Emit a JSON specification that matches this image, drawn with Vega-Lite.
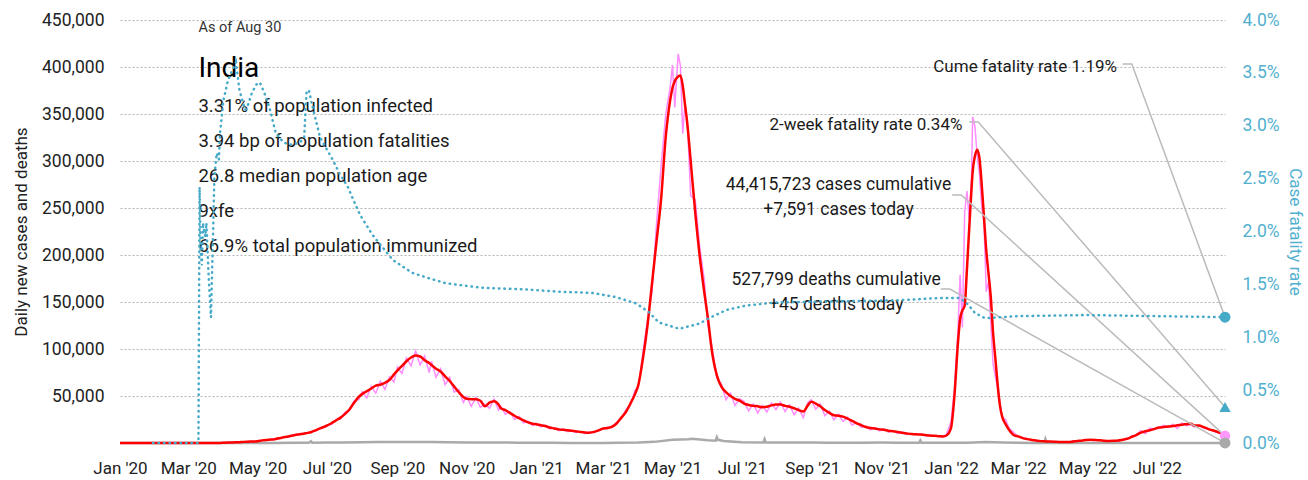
{
  "$schema": "https://vega.github.io/schema/vega-lite/v6.json",
  "width": 1105,
  "height": 423,
  "autosize": {"type": "none"},
  "padding": {"left": 120, "top": 20, "right": 83, "bottom": 37},
  "background": "white",
  "config": {
    "font": "Roboto",
    "view": {"stroke": null},
    "axis": {"labelFont": "Roboto", "titleFont": "Roboto", "labelColor": "#222", "titleColor": "#222", "titleFontWeight": "normal"},
    "text": {"font": "Roboto", "color": "#1a1a1a"}
  },
  "datasets": {
    "cases": [
      {"date": "2020-01-01", "avg": 0, "cases": 0}, {"date": "2020-01-30", "avg": 0, "cases": 1},
      {"date": "2020-03-01", "avg": 1, "cases": 0}, {"date": "2020-03-05", "avg": 4, "cases": 6}, {"date": "2020-03-09", "avg": 8, "cases": 9}, {"date": "2020-03-13", "avg": 12, "cases": 14}, {"date": "2020-03-17", "avg": 20, "cases": 23}, {"date": "2020-03-21", "avg": 50, "cases": 60}, {"date": "2020-03-25", "avg": 80, "cases": 86}, {"date": "2020-03-29", "avg": 130, "cases": 106},
      {"date": "2020-04-01", "avg": 300, "cases": 437}, {"date": "2020-04-05", "avg": 500, "cases": 480}, {"date": "2020-04-09", "avg": 600, "cases": 620}, {"date": "2020-04-13", "avg": 850, "cases": 800}, {"date": "2020-04-17", "avg": 1000, "cases": 1060}, {"date": "2020-04-21", "avg": 1300, "cases": 1250}, {"date": "2020-04-25", "avg": 1600, "cases": 1680}, {"date": "2020-04-29", "avg": 1700, "cases": 1610},
      {"date": "2020-05-01", "avg": 1900, "cases": 2000}, {"date": "2020-05-05", "avg": 2800, "cases": 2630}, {"date": "2020-05-09", "avg": 3300, "cases": 3430}, {"date": "2020-05-13", "avg": 3600, "cases": 3420}, {"date": "2020-05-17", "avg": 4300, "cases": 4560}, {"date": "2020-05-21", "avg": 5300, "cases": 5090}, {"date": "2020-05-25", "avg": 6300, "cases": 6620}, {"date": "2020-05-29", "avg": 7200, "cases": 6770},
      {"date": "2020-06-01", "avg": 8000, "cases": 8400}, {"date": "2020-06-05", "avg": 9000, "cases": 8460}, {"date": "2020-06-09", "avg": 9600, "cases": 9980}, {"date": "2020-06-13", "avg": 10500, "cases": 9980}, {"date": "2020-06-17", "avg": 11500, "cases": 12190}, {"date": "2020-06-21", "avg": 13500, "cases": 12960}, {"date": "2020-06-25", "avg": 15500, "cases": 16280}, {"date": "2020-06-29", "avg": 17500, "cases": 16450},
      {"date": "2020-07-01", "avg": 18500, "cases": 19430}, {"date": "2020-07-05", "avg": 21000, "cases": 19740}, {"date": "2020-07-09", "avg": 24000, "cases": 24960}, {"date": "2020-07-13", "avg": 27000, "cases": 25650}, {"date": "2020-07-17", "avg": 31000, "cases": 32860}, {"date": "2020-07-21", "avg": 36000, "cases": 34560}, {"date": "2020-07-25", "avg": 43000, "cases": 45150}, {"date": "2020-07-29", "avg": 49000, "cases": 46060},
      {"date": "2020-08-01", "avg": 52000, "cases": 54600}, {"date": "2020-08-05", "avg": 55000, "cases": 48000}, {"date": "2020-08-09", "avg": 58000, "cases": 60320}, {"date": "2020-08-13", "avg": 61000, "cases": 53000}, {"date": "2020-08-17", "avg": 62000, "cases": 65720}, {"date": "2020-08-21", "avg": 64000, "cases": 57000}, {"date": "2020-08-25", "avg": 67000, "cases": 70350}, {"date": "2020-08-29", "avg": 73000, "cases": 65000},
      {"date": "2020-09-01", "avg": 77000, "cases": 80850}, {"date": "2020-09-05", "avg": 82000, "cases": 74000}, {"date": "2020-09-09", "avg": 87000, "cases": 90480}, {"date": "2020-09-13", "avg": 91000, "cases": 82000}, {"date": "2020-09-17", "avg": 93000, "cases": 97890}, {"date": "2020-09-21", "avg": 92000, "cases": 83000}, {"date": "2020-09-25", "avg": 88000, "cases": 92400}, {"date": "2020-09-29", "avg": 85000, "cases": 75000},
      {"date": "2020-10-01", "avg": 83000, "cases": 87150}, {"date": "2020-10-05", "avg": 79000, "cases": 70000}, {"date": "2020-10-09", "avg": 76000, "cases": 79040}, {"date": "2020-10-13", "avg": 71000, "cases": 62000}, {"date": "2020-10-17", "avg": 66000, "cases": 69960}, {"date": "2020-10-21", "avg": 60000, "cases": 54000}, {"date": "2020-10-25", "avg": 54000, "cases": 56700}, {"date": "2020-10-29", "avg": 49000, "cases": 43000},
      {"date": "2020-11-01", "avg": 47000, "cases": 49350}, {"date": "2020-11-05", "avg": 46500, "cases": 39000}, {"date": "2020-11-09", "avg": 46500, "cases": 48360}, {"date": "2020-11-13", "avg": 45000, "cases": 38000}, {"date": "2020-11-17", "avg": 39000, "cases": 41340}, {"date": "2020-11-21", "avg": 43000, "cases": 37000}, {"date": "2020-11-25", "avg": 44500, "cases": 46730}, {"date": "2020-11-29", "avg": 41000, "cases": 35000},
      {"date": "2020-12-01", "avg": 37000, "cases": 38850}, {"date": "2020-12-05", "avg": 35000, "cases": 30500}, {"date": "2020-12-09", "avg": 32000, "cases": 33280}, {"date": "2020-12-13", "avg": 29000, "cases": 25000}, {"date": "2020-12-17", "avg": 26500, "cases": 28090}, {"date": "2020-12-21", "avg": 24000, "cases": 21500}, {"date": "2020-12-25", "avg": 22000, "cases": 23100}, {"date": "2020-12-29", "avg": 20500, "cases": 18500},
      {"date": "2021-01-01", "avg": 20000, "cases": 21000}, {"date": "2021-01-05", "avg": 19000, "cases": 17000}, {"date": "2021-01-09", "avg": 18000, "cases": 18720}, {"date": "2021-01-13", "avg": 16500, "cases": 15000}, {"date": "2021-01-17", "avg": 15500, "cases": 16430}, {"date": "2021-01-21", "avg": 14500, "cases": 13200}, {"date": "2021-01-25", "avg": 14000, "cases": 14700}, {"date": "2021-01-29", "avg": 13500, "cases": 12000},
      {"date": "2021-02-01", "avg": 13000, "cases": 13650}, {"date": "2021-02-05", "avg": 12500, "cases": 11200}, {"date": "2021-02-09", "avg": 11800, "cases": 12270}, {"date": "2021-02-13", "avg": 11200, "cases": 10000}, {"date": "2021-02-17", "avg": 11000, "cases": 11660}, {"date": "2021-02-21", "avg": 11800, "cases": 11000}, {"date": "2021-02-25", "avg": 13500, "cases": 14180},
      {"date": "2021-03-01", "avg": 15500, "cases": 14600}, {"date": "2021-03-05", "avg": 16000, "cases": 16800}, {"date": "2021-03-09", "avg": 17500, "cases": 16500}, {"date": "2021-03-13", "avg": 21000, "cases": 22000}, {"date": "2021-03-17", "avg": 27000, "cases": 26000}, {"date": "2021-03-21", "avg": 33000, "cases": 35500}, {"date": "2021-03-25", "avg": 42000, "cases": 40000}, {"date": "2021-03-29", "avg": 52000, "cases": 56000},
      {"date": "2021-04-01", "avg": 62000, "cases": 60000}, {"date": "2021-04-05", "avg": 90000, "cases": 96000}, {"date": "2021-04-09", "avg": 125000, "cases": 131000}, {"date": "2021-04-13", "avg": 170000, "cases": 161000}, {"date": "2021-04-17", "avg": 215000, "cases": 234000}, {"date": "2021-04-21", "avg": 260000, "cases": 295000}, {"date": "2021-04-25", "avg": 325000, "cases": 349000}, {"date": "2021-04-29", "avg": 365000, "cases": 379000},
      {"date": "2021-05-01", "avg": 378000, "cases": 402000}, {"date": "2021-05-03", "avg": 385000, "cases": 357000}, {"date": "2021-05-06", "avg": 390000, "cases": 414000}, {"date": "2021-05-08", "avg": 391000, "cases": 401000}, {"date": "2021-05-10", "avg": 380000, "cases": 329000}, {"date": "2021-05-12", "avg": 360000, "cases": 362000}, {"date": "2021-05-14", "avg": 340000, "cases": 343000}, {"date": "2021-05-17", "avg": 300000, "cases": 263000}, {"date": "2021-05-21", "avg": 245000, "cases": 259000}, {"date": "2021-05-25", "avg": 198000, "cases": 208000}, {"date": "2021-05-29", "avg": 160000, "cases": 173000},
      {"date": "2021-06-01", "avg": 134000, "cases": 127000}, {"date": "2021-06-05", "avg": 95000, "cases": 100000}, {"date": "2021-06-09", "avg": 72000, "cases": 69000}, {"date": "2021-06-13", "avg": 60000, "cases": 63000}, {"date": "2021-06-17", "avg": 54000, "cases": 46000}, {"date": "2021-06-21", "avg": 50000, "cases": 53000}, {"date": "2021-06-25", "avg": 47000, "cases": 40000}, {"date": "2021-06-29", "avg": 45000, "cases": 47000},
      {"date": "2021-07-03", "avg": 42000, "cases": 44000}, {"date": "2021-07-07", "avg": 40500, "cases": 34000}, {"date": "2021-07-11", "avg": 39500, "cases": 41500}, {"date": "2021-07-15", "avg": 39000, "cases": 32000}, {"date": "2021-07-19", "avg": 38000, "cases": 40000}, {"date": "2021-07-23", "avg": 38500, "cases": 33000}, {"date": "2021-07-27", "avg": 40000, "cases": 42500}, {"date": "2021-07-31", "avg": 41000, "cases": 35500},
      {"date": "2021-08-04", "avg": 41000, "cases": 43500}, {"date": "2021-08-08", "avg": 39500, "cases": 33500}, {"date": "2021-08-12", "avg": 38500, "cases": 40500}, {"date": "2021-08-16", "avg": 37000, "cases": 30000}, {"date": "2021-08-20", "avg": 35000, "cases": 37000}, {"date": "2021-08-24", "avg": 33500, "cases": 27000}, {"date": "2021-08-28", "avg": 40000, "cases": 43000}, {"date": "2021-08-31", "avg": 44000, "cases": 46000},
      {"date": "2021-09-04", "avg": 42000, "cases": 36000}, {"date": "2021-09-08", "avg": 39000, "cases": 41500}, {"date": "2021-09-12", "avg": 35000, "cases": 29000}, {"date": "2021-09-16", "avg": 32000, "cases": 34000}, {"date": "2021-09-20", "avg": 29500, "cases": 24500}, {"date": "2021-09-24", "avg": 29000, "cases": 30500}, {"date": "2021-09-28", "avg": 28000, "cases": 23000},
      {"date": "2021-10-02", "avg": 26000, "cases": 27500}, {"date": "2021-10-06", "avg": 23500, "cases": 19000}, {"date": "2021-10-10", "avg": 21000, "cases": 22000}, {"date": "2021-10-14", "avg": 19000, "cases": 16500}, {"date": "2021-10-18", "avg": 17000, "cases": 18000}, {"date": "2021-10-22", "avg": 16000, "cases": 14000}, {"date": "2021-10-26", "avg": 15500, "cases": 16300}, {"date": "2021-10-30", "avg": 14500, "cases": 12800},
      {"date": "2021-11-03", "avg": 14000, "cases": 14700}, {"date": "2021-11-07", "avg": 13000, "cases": 11500}, {"date": "2021-11-11", "avg": 12500, "cases": 13200}, {"date": "2021-11-15", "avg": 11800, "cases": 10300}, {"date": "2021-11-19", "avg": 11000, "cases": 11600}, {"date": "2021-11-23", "avg": 10200, "cases": 9000}, {"date": "2021-11-27", "avg": 9500, "cases": 10000},
      {"date": "2021-12-01", "avg": 9300, "cases": 8800}, {"date": "2021-12-05", "avg": 9000, "cases": 9500}, {"date": "2021-12-09", "avg": 8500, "cases": 8000}, {"date": "2021-12-13", "avg": 8000, "cases": 8400}, {"date": "2021-12-17", "avg": 7600, "cases": 7200}, {"date": "2021-12-21", "avg": 7300, "cases": 7700}, {"date": "2021-12-25", "avg": 7000, "cases": 6800}, {"date": "2021-12-28", "avg": 8000, "cases": 9200},
      {"date": "2022-01-01", "avg": 16000, "cases": 22800}, {"date": "2022-01-04", "avg": 50000, "cases": 58000}, {"date": "2022-01-07", "avg": 105000, "cases": 117000}, {"date": "2022-01-09", "avg": 132000, "cases": 179000}, {"date": "2022-01-11", "avg": 141000, "cases": 123000}, {"date": "2022-01-13", "avg": 146000, "cases": 245000}, {"date": "2022-01-15", "avg": 185000, "cases": 268000}, {"date": "2022-01-17", "avg": 228000, "cases": 238000}, {"date": "2022-01-19", "avg": 270000, "cases": 282000}, {"date": "2022-01-20", "avg": 288000, "cases": 347000}, {"date": "2022-01-22", "avg": 305000, "cases": 337000}, {"date": "2022-01-24", "avg": 312000, "cases": 306000}, {"date": "2022-01-26", "avg": 303000, "cases": 286000}, {"date": "2022-01-28", "avg": 275000, "cases": 251000}, {"date": "2022-01-30", "avg": 240000, "cases": 234000},
      {"date": "2022-02-01", "avg": 205000, "cases": 161000}, {"date": "2022-02-03", "avg": 180000, "cases": 172000}, {"date": "2022-02-05", "avg": 155000, "cases": 127000}, {"date": "2022-02-07", "avg": 117000, "cases": 84000}, {"date": "2022-02-09", "avg": 90000, "cases": 71000}, {"date": "2022-02-11", "avg": 62000, "cases": 58000}, {"date": "2022-02-13", "avg": 40000, "cases": 44000}, {"date": "2022-02-15", "avg": 28000, "cases": 27000}, {"date": "2022-02-18", "avg": 20000, "cases": 25000}, {"date": "2022-02-21", "avg": 14000, "cases": 16000}, {"date": "2022-02-25", "avg": 8500, "cases": 11500},
      {"date": "2022-03-01", "avg": 7000, "cases": 6900}, {"date": "2022-03-05", "avg": 5200, "cases": 5900}, {"date": "2022-03-09", "avg": 4100, "cases": 4600}, {"date": "2022-03-13", "avg": 3300, "cases": 3600}, {"date": "2022-03-17", "avg": 2600, "cases": 2500}, {"date": "2022-03-21", "avg": 2000, "cases": 1600}, {"date": "2022-03-25", "avg": 1700, "cases": 1700}, {"date": "2022-03-29", "avg": 1500, "cases": 1300},
      {"date": "2022-04-02", "avg": 1300, "cases": 1200}, {"date": "2022-04-06", "avg": 1100, "cases": 1100}, {"date": "2022-04-10", "avg": 1100, "cases": 1150}, {"date": "2022-04-14", "avg": 1100, "cases": 950}, {"date": "2022-04-18", "avg": 1500, "cases": 2200}, {"date": "2022-04-22", "avg": 2200, "cases": 2500}, {"date": "2022-04-26", "avg": 2500, "cases": 2500}, {"date": "2022-04-30", "avg": 3200, "cases": 3700},
      {"date": "2022-05-04", "avg": 3400, "cases": 3200}, {"date": "2022-05-08", "avg": 3200, "cases": 3400}, {"date": "2022-05-12", "avg": 2900, "cases": 2800}, {"date": "2022-05-16", "avg": 2400, "cases": 2200}, {"date": "2022-05-20", "avg": 2200, "cases": 2300}, {"date": "2022-05-24", "avg": 2300, "cases": 2100}, {"date": "2022-05-28", "avg": 2600, "cases": 2700},
      {"date": "2022-06-01", "avg": 3500, "cases": 3700}, {"date": "2022-06-05", "avg": 4500, "cases": 4300}, {"date": "2022-06-09", "avg": 6500, "cases": 7600}, {"date": "2022-06-13", "avg": 8500, "cases": 8100}, {"date": "2022-06-17", "avg": 11000, "cases": 13200}, {"date": "2022-06-21", "avg": 12500, "cases": 9900}, {"date": "2022-06-25", "avg": 13500, "cases": 15900}, {"date": "2022-06-29", "avg": 15000, "cases": 14500},
      {"date": "2022-07-03", "avg": 16500, "cases": 16100}, {"date": "2022-07-07", "avg": 17000, "cases": 18900}, {"date": "2022-07-11", "avg": 17500, "cases": 16600}, {"date": "2022-07-15", "avg": 18000, "cases": 20000}, {"date": "2022-07-19", "avg": 18800, "cases": 15500}, {"date": "2022-07-23", "avg": 19500, "cases": 21400}, {"date": "2022-07-27", "avg": 20000, "cases": 18300}, {"date": "2022-07-31", "avg": 20500, "cases": 19700},
      {"date": "2022-08-03", "avg": 18500, "cases": 17100}, {"date": "2022-08-07", "avg": 18500, "cases": 18700}, {"date": "2022-08-11", "avg": 17000, "cases": 16300}, {"date": "2022-08-15", "avg": 15000, "cases": 14900}, {"date": "2022-08-19", "avg": 13500, "cases": 13300}, {"date": "2022-08-23", "avg": 12000, "cases": 11000}, {"date": "2022-08-27", "avg": 10000, "cases": 9600}, {"date": "2022-08-30", "avg": 8800, "cases": 7591}
    ],
    "deaths": [
      {"date": "2020-01-01", "deaths": 0}, {"date": "2020-03-15", "deaths": 0}, {"date": "2020-04-01", "deaths": 20}, {"date": "2020-04-15", "deaths": 40}, {"date": "2020-05-01", "deaths": 70}, {"date": "2020-05-15", "deaths": 110}, {"date": "2020-06-01", "deaths": 220}, {"date": "2020-06-15", "deaths": 350}, {"date": "2020-06-17", "deaths": 2003}, {"date": "2020-06-18", "deaths": 340}, {"date": "2020-07-01", "deaths": 450}, {"date": "2020-07-15", "deaths": 600}, {"date": "2020-08-01", "deaths": 800}, {"date": "2020-08-15", "deaths": 950}, {"date": "2020-09-01", "deaths": 1050}, {"date": "2020-09-15", "deaths": 1150}, {"date": "2020-10-01", "deaths": 1100}, {"date": "2020-10-15", "deaths": 800}, {"date": "2020-11-01", "deaths": 550}, {"date": "2020-11-15", "deaths": 480}, {"date": "2020-12-01", "deaths": 480}, {"date": "2020-12-15", "deaths": 350},
      {"date": "2021-01-01", "deaths": 250}, {"date": "2021-01-15", "deaths": 170}, {"date": "2021-02-01", "deaths": 110}, {"date": "2021-02-15", "deaths": 100}, {"date": "2021-03-01", "deaths": 110}, {"date": "2021-03-15", "deaths": 160}, {"date": "2021-04-01", "deaths": 450}, {"date": "2021-04-15", "deaths": 1200}, {"date": "2021-05-01", "deaths": 3500}, {"date": "2021-05-15", "deaths": 4000}, {"date": "2021-05-18", "deaths": 4529}, {"date": "2021-06-01", "deaths": 2800}, {"date": "2021-06-08", "deaths": 2500}, {"date": "2021-06-09", "deaths": 6148}, {"date": "2021-06-10", "deaths": 3400}, {"date": "2021-06-15", "deaths": 2200}, {"date": "2021-07-01", "deaths": 900}, {"date": "2021-07-20", "deaths": 600}, {"date": "2021-07-21", "deaths": 3998}, {"date": "2021-07-22", "deaths": 550}, {"date": "2021-08-01", "deaths": 480}, {"date": "2021-08-15", "deaths": 450}, {"date": "2021-09-01", "deaths": 400}, {"date": "2021-09-15", "deaths": 300}, {"date": "2021-10-01", "deaths": 280}, {"date": "2021-10-15", "deaths": 200}, {"date": "2021-11-01", "deaths": 450}, {"date": "2021-11-15", "deaths": 300}, {"date": "2021-12-01", "deaths": 300}, {"date": "2021-12-04", "deaths": 280}, {"date": "2021-12-05", "deaths": 2796}, {"date": "2021-12-06", "deaths": 300}, {"date": "2021-12-15", "deaths": 250},
      {"date": "2022-01-01", "deaths": 280}, {"date": "2022-01-15", "deaths": 380}, {"date": "2022-02-01", "deaths": 1100}, {"date": "2022-02-15", "deaths": 600}, {"date": "2022-03-01", "deaths": 200}, {"date": "2022-03-15", "deaths": 100}, {"date": "2022-03-24", "deaths": 60}, {"date": "2022-03-25", "deaths": 4100}, {"date": "2022-03-26", "deaths": 60}, {"date": "2022-04-15", "deaths": 40}, {"date": "2022-05-01", "deaths": 40}, {"date": "2022-06-01", "deaths": 20}, {"date": "2022-07-01", "deaths": 30}, {"date": "2022-08-01", "deaths": 40}, {"date": "2022-08-30", "deaths": 45}
    ],
    "cfr": [
      {"date": "2020-01-30", "cfr": 0}, {"date": "2020-03-10", "cfr": 0}, {"date": "2020-03-11", "cfr": 0.0242}, {"date": "2020-03-12", "cfr": 0.018}, {"date": "2020-03-13", "cfr": 0.0168}, {"date": "2020-03-14", "cfr": 0.0208}, {"date": "2020-03-16", "cfr": 0.0195}, {"date": "2020-03-17", "cfr": 0.0208}, {"date": "2020-03-19", "cfr": 0.0157}, {"date": "2020-03-21", "cfr": 0.0119}, {"date": "2020-03-23", "cfr": 0.0204}, {"date": "2020-03-24", "cfr": 0.0251}, {"date": "2020-03-26", "cfr": 0.0274}, {"date": "2020-03-28", "cfr": 0.0268}, {"date": "2020-03-29", "cfr": 0.0293},
      {"date": "2020-04-01", "cfr": 0.0324}, {"date": "2020-04-05", "cfr": 0.0343}, {"date": "2020-04-09", "cfr": 0.0353}, {"date": "2020-04-12", "cfr": 0.036}, {"date": "2020-04-15", "cfr": 0.0334}, {"date": "2020-04-20", "cfr": 0.0315}, {"date": "2020-04-22", "cfr": 0.0318}, {"date": "2020-04-26", "cfr": 0.0331}, {"date": "2020-04-30", "cfr": 0.0339}, {"date": "2020-05-03", "cfr": 0.0341}, {"date": "2020-05-07", "cfr": 0.0331}, {"date": "2020-05-12", "cfr": 0.0315}, {"date": "2020-05-17", "cfr": 0.0293}, {"date": "2020-05-24", "cfr": 0.0284}, {"date": "2020-05-31", "cfr": 0.0282}, {"date": "2020-06-07", "cfr": 0.0284}, {"date": "2020-06-11", "cfr": 0.0289}, {"date": "2020-06-13", "cfr": 0.0331}, {"date": "2020-06-15", "cfr": 0.0334}, {"date": "2020-06-19", "cfr": 0.0315}, {"date": "2020-06-25", "cfr": 0.0289},
      {"date": "2020-07-06", "cfr": 0.0268}, {"date": "2020-07-12", "cfr": 0.0255}, {"date": "2020-07-19", "cfr": 0.0243}, {"date": "2020-07-30", "cfr": 0.0216}, {"date": "2020-08-10", "cfr": 0.0197}, {"date": "2020-08-28", "cfr": 0.0173}, {"date": "2020-09-14", "cfr": 0.0161}, {"date": "2020-09-28", "cfr": 0.0156}, {"date": "2020-10-14", "cfr": 0.0151}, {"date": "2020-11-12", "cfr": 0.0147}, {"date": "2020-12-26", "cfr": 0.0145},
      {"date": "2021-01-22", "cfr": 0.0143}, {"date": "2021-02-19", "cfr": 0.0142}, {"date": "2021-03-12", "cfr": 0.0138}, {"date": "2021-03-30", "cfr": 0.0132}, {"date": "2021-04-10", "cfr": 0.0124}, {"date": "2021-04-19", "cfr": 0.0114}, {"date": "2021-05-07", "cfr": 0.0108}, {"date": "2021-05-25", "cfr": 0.0113}, {"date": "2021-06-02", "cfr": 0.0118}, {"date": "2021-06-18", "cfr": 0.0126}, {"date": "2021-07-05", "cfr": 0.013}, {"date": "2021-08-01", "cfr": 0.0133}, {"date": "2021-11-17", "cfr": 0.0135}, {"date": "2021-12-20", "cfr": 0.0137},
      {"date": "2022-01-09", "cfr": 0.0137}, {"date": "2022-01-16", "cfr": 0.0131}, {"date": "2022-01-22", "cfr": 0.0123}, {"date": "2022-01-31", "cfr": 0.0118}, {"date": "2022-03-01", "cfr": 0.012}, {"date": "2022-05-01", "cfr": 0.0121}, {"date": "2022-08-30", "cfr": 0.0119}
    ],
    "leaders": [
      {"id": "cume", "ord": 1, "date": "2022-06-01", "v": 403200}, {"id": "cume", "ord": 2, "date": "2022-06-09", "v": 403200}, {"id": "cume", "ord": 3, "date": "2022-08-30", "v": 133900},
      {"id": "twoweek", "ord": 1, "date": "2022-01-17", "v": 341500}, {"id": "twoweek", "ord": 2, "date": "2022-01-25", "v": 341500}, {"id": "twoweek", "ord": 3, "date": "2022-08-30", "v": 38250},
      {"id": "cases", "ord": 1, "date": "2022-01-02", "v": 263800}, {"id": "cases", "ord": 2, "date": "2022-01-10", "v": 263800}, {"id": "cases", "ord": 3, "date": "2022-08-30", "v": 7591},
      {"id": "deaths", "ord": 1, "date": "2021-12-23", "v": 163800}, {"id": "deaths", "ord": 2, "date": "2021-12-31", "v": 163800}, {"id": "deaths", "ord": 3, "date": "2022-08-30", "v": 45}
    ]
  },
  "encoding": {
    "x": {
      "field": "date",
      "type": "temporal",
      "scale": {"type": "utc", "domain": [{"year": 2020, "month": 1, "date": 1, "utc": true}, {"year": 2022, "month": 8, "date": 30, "utc": true}]},
      "axis": {"format": "%b '%y", "tickCount": {"interval": "month", "step": 2}, "grid": false, "ticks": false, "domain": false, "labelFontSize": 17, "labelPadding": 17, "labelFlush": false, "labelOverlap": false, "title": null}
    }
  },
  "layer": [
    {
      "layer": [
        {
          "data": {"name": "cases"},
          "mark": {"type": "line", "color": "#ff8cff", "strokeWidth": 1.5},
          "encoding": {
            "y": {
              "field": "cases", "type": "quantitative", "title": "Daily new cases and deaths",
              "scale": {"domain": [0, 450000], "nice": false},
              "axis": {"orient": "left", "values": [50000, 100000, 150000, 200000, 250000, 300000, 350000, 400000, 450000], "labelExpr": "format(datum.value, ',')", "grid": true, "gridColor": "#b5b5b5", "gridDash": [2, 2], "gridWidth": 1, "ticks": false, "domain": false, "labelFontSize": 17.5, "labelPadding": 16, "titleFontSize": 17, "titlePadding": 11}
            }
          }
        },
        {
          "data": {"name": "deaths"},
          "mark": {"type": "line", "color": "#aaaaaa", "strokeWidth": 2.5},
          "encoding": {"y": {"field": "deaths", "type": "quantitative", "title": "Daily new cases and deaths", "scale": {"domain": [0, 450000], "nice": false}}}
        },
        {
          "data": {"name": "cases"},
          "mark": {"type": "line", "color": "#ff0000", "strokeWidth": 2.5, "interpolate": "monotone"},
          "encoding": {"y": {"field": "avg", "type": "quantitative", "title": "Daily new cases and deaths", "scale": {"domain": [0, 450000], "nice": false}}}
        },
        {
          "data": {"values": [{"date": "2020-03-10", "v": 437600, "t": "As of Aug 30"}]},
          "mark": {"type": "text", "align": "left", "baseline": "alphabetic", "fontSize": 14.5, "color": "#333"},
          "encoding": {"y": {"field": "v", "type": "quantitative", "title": "Daily new cases and deaths", "scale": {"domain": [0, 450000], "nice": false}}, "text": {"field": "t"}}
        },
        {
          "data": {"values": [{"date": "2020-03-10", "v": 389400, "t": "India"}]},
          "mark": {"type": "text", "align": "left", "baseline": "alphabetic", "fontSize": 28, "color": "#000"},
          "encoding": {"y": {"field": "v", "type": "quantitative", "title": "Daily new cases and deaths", "scale": {"domain": [0, 450000], "nice": false}}, "text": {"field": "t"}}
        },
        {
          "data": {"values": [
            {"date": "2020-03-10", "v": 352400, "t": "3.31% of population infected"},
            {"date": "2020-03-10", "v": 315200, "t": "3.94 bp of population fatalities"},
            {"date": "2020-03-10", "v": 278000, "t": "26.8 median population age"},
            {"date": "2020-03-10", "v": 240700, "t": "9xfe"},
            {"date": "2020-03-10", "v": 203500, "t": "66.9% total population immunized"}
          ]},
          "mark": {"type": "text", "align": "left", "baseline": "alphabetic", "fontSize": 18.5},
          "encoding": {"y": {"field": "v", "type": "quantitative", "title": "Daily new cases and deaths", "scale": {"domain": [0, 450000], "nice": false}}, "text": {"field": "t"}}
        },
        {
          "data": {"values": [
            {"date": "2022-05-27", "v": 394700, "t": "Cume fatality rate 1.19%"},
            {"date": "2022-01-11", "v": 333000, "t": "2-week fatality rate 0.34%"}
          ]},
          "mark": {"type": "text", "align": "right", "baseline": "alphabetic", "fontSize": 17},
          "encoding": {"y": {"field": "v", "type": "quantitative", "title": "Daily new cases and deaths", "scale": {"domain": [0, 450000], "nice": false}}, "text": {"field": "t"}}
        },
        {
          "data": {"values": [
            {"date": "2021-09-24", "v": 269000, "t": "44,415,723 cases cumulative"},
            {"date": "2021-09-24", "v": 242600, "t": "+7,591 cases today"},
            {"date": "2021-09-22", "v": 168000, "t": "527,799 deaths cumulative"},
            {"date": "2021-09-22", "v": 141500, "t": "+45 deaths today"}
          ]},
          "mark": {"type": "text", "align": "center", "baseline": "alphabetic", "fontSize": 17.5},
          "encoding": {"y": {"field": "v", "type": "quantitative", "title": "Daily new cases and deaths", "scale": {"domain": [0, 450000], "nice": false}}, "text": {"field": "t"}}
        },
        {
          "data": {"name": "leaders"},
          "mark": {"type": "line", "color": "#bbbbbb", "strokeWidth": 1.5},
          "encoding": {
            "y": {"field": "v", "type": "quantitative", "title": "Daily new cases and deaths", "scale": {"domain": [0, 450000], "nice": false}},
            "detail": {"field": "id"},
            "order": {"field": "ord"}
          }
        },
        {
          "data": {"values": [{"date": "2022-08-30", "v": 7591}]},
          "mark": {"type": "point", "shape": "circle", "filled": true, "opacity": 1, "color": "#ff99ff", "size": 110},
          "encoding": {"y": {"field": "v", "type": "quantitative", "title": "Daily new cases and deaths", "scale": {"domain": [0, 450000], "nice": false}}}
        },
        {
          "data": {"values": [{"date": "2022-08-30", "v": 45}]},
          "mark": {"type": "point", "shape": "circle", "filled": true, "opacity": 1, "color": "#aaaaaa", "size": 120},
          "encoding": {"y": {"field": "v", "type": "quantitative", "title": "Daily new cases and deaths", "scale": {"domain": [0, 450000], "nice": false}}}
        }
      ]
    },
    {
      "layer": [
        {
          "data": {"name": "cfr"},
          "mark": {"type": "line", "color": "#45a9c8", "strokeWidth": 2.5, "strokeDash": [0.5, 5], "strokeCap": "round"},
          "encoding": {
            "y": {
              "field": "cfr", "type": "quantitative", "title": "Case fatality rate",
              "scale": {"domain": [0, 0.04], "nice": false},
              "axis": {"orient": "right", "values": [0, 0.005, 0.01, 0.015, 0.02, 0.025, 0.03, 0.035, 0.04], "labelExpr": "format(datum.value, '.1%')", "grid": false, "ticks": false, "domain": false, "labelFontSize": 17.5, "labelPadding": 17, "labelColor": "#52b0cf", "titleColor": "#52b0cf", "titleFontSize": 17, "titlePadding": 6}
            }
          }
        },
        {
          "data": {"values": [{"date": "2022-08-30", "r": 0.0119}]},
          "mark": {"type": "point", "shape": "circle", "filled": true, "opacity": 1, "color": "#45a9c8", "size": 120},
          "encoding": {"y": {"field": "r", "type": "quantitative", "title": "Case fatality rate", "scale": {"domain": [0, 0.04], "nice": false}}}
        },
        {
          "data": {"values": [{"date": "2022-08-30", "r": 0.0034}]},
          "mark": {"type": "point", "shape": "triangle-up", "filled": true, "opacity": 1, "color": "#45a9c8", "size": 130},
          "encoding": {"y": {"field": "r", "type": "quantitative", "title": "Case fatality rate", "scale": {"domain": [0, 0.04], "nice": false}}}
        }
      ]
    }
  ],
  "resolve": {"scale": {"y": "independent"}, "axis": {"y": "independent"}}
}
